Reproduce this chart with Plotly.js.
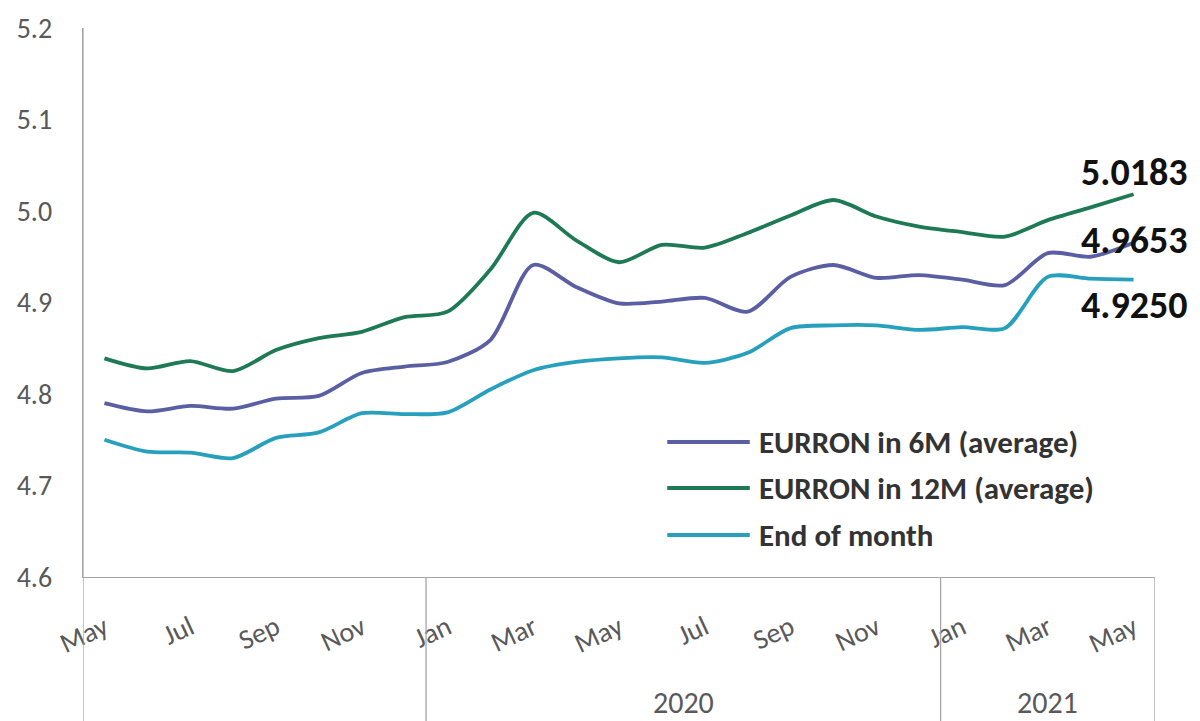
<!DOCTYPE html>
<html>
<head>
<meta charset="utf-8">
<script src="https://cdn.plot.ly/plotly-3.0.1.min.js"></script>
<style>html,body{margin:0;padding:0;background:#fff;}#chart{width:1200px;height:721px;}</style>
</head>
<body>
<div id="chart"></div>
<script>
// Months May 2019 .. May 2021
const months = ["May","Jun","Jul","Aug","Sep","Oct","Nov","Dec",
  "Jan","Feb","Mar","Apr","May","Jun","Jul","Aug","Sep","Oct","Nov","Dec",
  "Jan","Feb","Mar","Apr","May"];
const yearGroups = ["", "2020", "2021"];
const yearStarts = [0, 8, 20];

const seriesNames = ["EURRON in 6M (average)", "EURRON in 12M (average)", "End of month"];
const avg6M = [4.790, 4.781, 4.787, 4.784, 4.795, 4.798, 4.823, 4.830, 4.835, 4.859, 4.941, 4.917, 4.899,
  4.901, 4.905, 4.890, 4.928, 4.941, 4.927, 4.930, 4.925, 4.919, 4.954, 4.950, 4.9653];
const avg12M = [4.839, 4.828, 4.836, 4.825, 4.848, 4.861, 4.868, 4.884, 4.890, 4.936, 4.998, 4.968, 4.944,
  4.963, 4.960, 4.976, 4.995, 5.012, 4.994, 4.983, 4.977, 4.972, 4.990, 5.004, 5.0183];
const endOfMonth = [4.750, 4.737, 4.736, 4.730, 4.752, 4.758, 4.779, 4.778, 4.780, 4.805, 4.826, 4.835, 4.839,
  4.840, 4.834, 4.845, 4.872, 4.875, 4.875, 4.870, 4.873, 4.872, 4.928, 4.926, 4.925];
const lastLabels = ["4.9653", "5.0183", "4.9250"];

const colors = ["#5A5FA3", "#1E7A55", "#26A0BC"];
const values = [avg6M, avg12M, endOfMonth];
const FONT = "Carlito, Calibri, 'Liberation Sans', Arial, sans-serif";

const xs = months.map((m, i) => i);
const traces = values.map((v, k) => ({
  x: xs, y: v, type: "scatter", mode: "lines", name: seriesNames[k],
  line: {color: colors[k], width: 3.8, shape: "spline", smoothing: 0.8},
  showlegend: false, hoverinfo: "skip"
}));

const tickIdx = xs.filter(i => i % 2 === 0);
const n = months.length;

const shapes = [];
const annotations = [];
// category-group separators below axis
const seps = [-0.5, 7.5, 19.5, n - 0.5];
seps.forEach((s, j) => {
  shapes.push({type: "line", xref: "x", yref: "paper", x0: s, x1: s,
    y0: j === 0 ? 1 : 0, y1: -0.27, line: {color: "#a6a6a6", width: 1.3}});
});
// year labels
yearGroups.forEach((y, j) => {
  if (!y) return;
  const start = yearStarts[j];
  const end = j + 1 < yearStarts.length ? yearStarts[j + 1] - 1 : n - 1;
  annotations.push({text: y, xref: "x", yref: "paper", x: (start + end) / 2, y: -0.2295,
    showarrow: false, xanchor: "center", yanchor: "middle",
    font: {family: FONT, size: 30, color: "#595959"}});
});
// end value labels
const labelShift = [3, 22, -25];
values.forEach((v, k) => {
  annotations.push({text: "<b>" + lastLabels[k] + "</b>", xref: "x", yref: "y",
    x: n - 1, y: v[n - 1], yshift: labelShift[k], showarrow: false,
    xanchor: "center", yanchor: "middle",
    font: {family: FONT, size: 38, color: "#111"}});
});
// manual legend
const legY = [0.2459, 0.162, 0.0765];
seriesNames.forEach((nm, k) => {
  shapes.push({type: "line", xref: "paper", yref: "paper", x0: 0.545, x1: 0.622,
    y0: legY[k], y1: legY[k], line: {color: colors[k], width: 4}});
  annotations.push({text: "<b>" + nm + "</b>", xref: "paper", yref: "paper",
    x: 0.629, y: legY[k], xanchor: "left", yanchor: "middle", showarrow: false,
    font: {family: FONT, size: 31, color: "#333"}});
});

const layout = {
  width: 1200, height: 721,
  margin: {l: 83, r: 45, t: 28, b: 144},
  paper_bgcolor: "#fff", plot_bgcolor: "#fff",
  showlegend: false,
  xaxis: {
    range: [-0.5, n - 0.5], tickmode: "array", tickvals: tickIdx,
    ticktext: tickIdx.map(i => months[i]), tickangle: -25,
    showgrid: false, zeroline: false, showline: true, linecolor: "#a6a6a6", linewidth: 1.3,
    ticks: "", ticklabelstandoff: 22,
    tickfont: {family: FONT, size: 28, color: "#595959"}
  },
  yaxis: {
    range: [4.6, 5.2], tickmode: "array", tickvals: [4.6, 4.7, 4.8, 4.9, 5.0, 5.1, 5.2],
    tickformat: ".1f", showgrid: false, zeroline: false, showline: true,
    linecolor: "#a6a6a6", linewidth: 1.3, ticks: "", ticklabelstandoff: 24,
    tickfont: {family: FONT, size: 28, color: "#595959"}
  },
  shapes: shapes,
  annotations: annotations
};

Plotly.newPlot("chart", traces, layout, {staticPlot: true, displayModeBar: false});
</script>
</body>
</html>
